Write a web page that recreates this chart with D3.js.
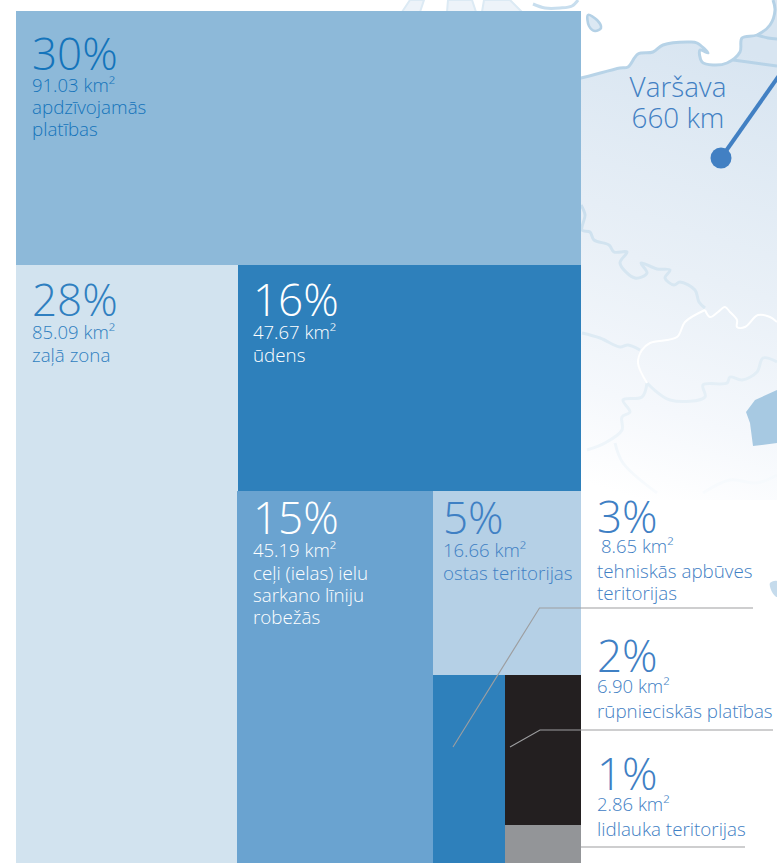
<!DOCTYPE html>
<html><head><meta charset="utf-8">
<script src="https://cdn.jsdelivr.net/npm/d3@7"></script>
<style>html,body{margin:0;padding:0;background:#fff;overflow:hidden}svg{display:block}
text{font-family:"Open Sans",sans-serif;font-weight:300}</style></head>
<body><svg id="c" width="777" height="863"></svg>
<script>
// printed labels
const categories = ["apdzīvojamās platības","zaļā zona","ūdens","ceļi (ielas) ielu sarkano līniju robežās","ostas teritorijas","tehniskās apbūves teritorijas","rūpnieciskās platības","lidlauka teritorijas"];
const percentLabels = ["30%","28%","16%","15%","5%","3%","2%","1%"];
const areaKm2 = [91.03,85.09,47.67,45.19,16.66,8.65,6.90,2.86];
const nameLines = [["apdzīvojamās","platības"],["zaļā zona"],["ūdens"],["ceļi (ielas) ielu","sarkano līniju","robežās"],["ostas teritorijas"],["tehniskās apbūves","teritorijas"],["rūpnieciskās platības"],["lidlauka teritorijas"]];
// share of the treemap's area each block occupies in the picture (%)
const drawnShare = [29.81,27.58,16.10,15.07,5.66,2.81,2.37,0.60];
const blockColors = ["#8db9d9","#d2e3ef","#2e80bb","#6aa3d0","#b5d0e6","#2e80bb","#231f20","#939598"];
const textColors = ["#1474bb","#2f7fc0","#ffffff","#ffffff","#3f80c4","#3f80c4","#3f80c4","#3f80c4"];
const cityLabel = ["Varšava","660 km"];

const svg = d3.select("#c");
const defs = svg.append("defs");
const land = defs.append("linearGradient").attr("id","land").attr("gradientUnits","userSpaceOnUse")
  .attr("x1",777).attr("y1",60).attr("x2",640).attr("y2",500);
land.append("stop").attr("offset",0).attr("stop-color","#d8e5f1");
land.append("stop").attr("offset",.5).attr("stop-color","#e9f0f7");
land.append("stop").attr("offset",.8).attr("stop-color","#f5f8fc");
land.append("stop").attr("offset",1).attr("stop-color","#ffffff");
const edge = defs.append("linearGradient").attr("id","edge").attr("gradientUnits","userSpaceOnUse")
  .attr("x1",0).attr("y1",0).attr("x2",0).attr("y2",500);
edge.append("stop").attr("offset",0).attr("stop-color","#b4d1e6");
edge.append("stop").attr("offset",.3).attr("stop-color","#bcd6e9");
edge.append("stop").attr("offset",.5).attr("stop-color","#d3e4f0");
edge.append("stop").attr("offset",.8).attr("stop-color","#e6f0f7");
edge.append("stop").attr("offset",1).attr("stop-color","#fafcfe");

// ---- decorative map ----
const smooth = d3.line().curve(d3.curveCatmullRom.alpha(.5));
const coast = [[560,82],[581,78],[620,68],[628,67],[638,54],[653,52],[663,45],[690,42],[697,43],[708,53],[700,50],[702,62],[713,65],[727,63],[740,52],[742,38],[757,35],[770,25],[775,10],[773,0]];
const map = svg.append("g");
map.append("path").attr("d",smooth(coast)+"L777,0L777,500L400,500L400,82Z").attr("fill","url(#land)");
const lines = [
  coast,
  [[757,35],[768,38],[777,39]],
  [[733,60],[755,63],[777,66]],
  [[581,205],[585,215],[582,230],[590,232],[594,240],[609,245],[614,252],[627,252],[620,263],[635,278],[647,273],[641,263],[657,269],[670,270],[665,278],[674,285],[680,282],[695,290],[699,302],[705,308]],
  [[647,383],[670,400],[705,397],[703,385],[727,383],[730,377],[742,380],[757,372],[763,358],[777,362]],
  [[582,333],[600,338],[620,347],[628,345],[640,350]],
  [[647,383],[642,397],[623,400],[630,412],[622,417],[622,430],[605,443],[587,450]],
  [[615,443],[623,463],[657,493]],
  [[703,493],[730,480],[757,483],[777,475]]
];
map.selectAll("path.edge").data(lines).join("path").attr("class","edge").attr("d",smooth)
  .attr("fill","none").attr("stroke","url(#edge)").attr("stroke-width",3).attr("stroke-linejoin","round");
map.append("path").attr("d",smooth([[705,310],[710,317],[718,312],[725,307],[730,312],[737,320],[737,327],[745,327],[758,315],[770,317],[777,322]]))
  .attr("fill","none").attr("stroke","#fff").attr("stroke-width",2);
map.append("path").attr("d",smooth([[705,310],[685,322],[677,337],[650,343],[642,350],[638,363],[647,383]]))
  .attr("fill","none").attr("stroke","#fff").attr("stroke-width",2);
map.append("path").attr("d",d3.line().curve(d3.curveCatmullRomClosed)([[588,15],[597,20],[601,28],[595,31],[589,26]]))
  .attr("fill","#dbe8f3").attr("stroke","#b4d1e6").attr("stroke-width",2.6);
map.append("path").attr("d","M746,412L755,400L777,390L777,443L753,446L750,423Z").attr("fill","#a7c9e2");
map.append("path").attr("d",smooth([[533,4],[545,8],[560,8],[572,6],[578,0]])).attr("fill","none").attr("stroke","#c8deee").attr("stroke-width",3);
[[[402,12],[410,0],[424,0],[420,12]],[[447,12],[448,0],[472,0],[476,12]],[[482,12],[484,0],[510,0],[522,12]]].forEach(p=>
  map.append("path").attr("d",d3.line()(p)+"Z").attr("fill","#edf3f9").attr("stroke","#dceaf4").attr("stroke-width",2));
map.append("path").attr("d",d3.line().curve(d3.curveCatmullRomClosed)([[770,583],[777,581],[777,597],[772,592]])).attr("fill","#c5dbec");

// ---- treemap ----
const nest = drawnShare.reduceRight((rest,v,i)=>{
  const leaf={index:i,value:v};
  return rest? {children:[leaf,rest]} : leaf;
}, null);
const root = d3.hierarchy(nest).sum(d=>d.children?0:d.value);
d3.treemap().size([565,852]).round(true)
  .tile((n,x0,y0,x1,y1)=> (n.depth&1 ? d3.treemapDice : d3.treemapSlice)(n,x0,y0,x1,y1))(root);
const leaves = root.leaves().sort((a,b)=>a.data.index-b.data.index);
const plot = svg.append("g").attr("transform","translate(16,11)");
const seam = i => i===3 ? 1 : 0; // the roads block overlaps the green block by a pixel
plot.selectAll("rect").data(leaves).join("rect")
  .attr("x",d=>d.x0-seam(d.data.index)).attr("y",d=>d.y0)
  .attr("width",d=>d.x1-d.x0+seam(d.data.index)).attr("height",d=>d.y1-d.y0)
  .attr("fill",d=>blockColors[d.data.index]);

// ---- leader lines ----
const leaders=[[[453,747],[539.5,608],[753,608]],[[510,747],[540,730],[773,730]],[[581,847],[745,847]]];
svg.selectAll("path.leader").data(leaders).join("path").attr("class","leader").attr("d",d3.line())
  .attr("fill","none").attr("stroke","#9d9ea0").attr("stroke-width",1.1);

// ---- labels ----
const anchors=[
 {x:32,y:70,a:92,n:114},{x:32,y:316,a:339,n:362},{x:253,y:316,a:339,n:362},{x:253,y:534,a:557,n:580},
 {x:443,y:534,a:557,n:580},{x:597,y:533,a:553,n:578,ax:601},{x:597,y:672,a:693,n:718},{x:597,y:790,a:811,n:836}];
const labels=svg.append("g");
anchors.forEach((p,i)=>{
  const g=labels.append("g").attr("fill",textColors[i]);
  g.append("text").attr("x",p.x).attr("y",p.y).attr("font-size",44).text(percentLabels[i]);
  g.append("text").attr("x",p.ax||p.x).attr("y",p.a).attr("font-size",18.5).text(areaKm2[i].toFixed(2)+" km²");
  nameLines[i].forEach((s,k)=>g.append("text").attr("x",p.x).attr("y",p.n+k*22).attr("font-size",18.8).text(s));
});

// ---- city marker ----
const cx=d3.scaleLinear().domain([0,1]).range([721,790]), cy=d3.scaleLinear().domain([0,1]).range([158,60]);
svg.append("line").attr("x1",cx(0)).attr("y1",cy(0)).attr("x2",cx(1)).attr("y2",cy(1)).attr("stroke","#4280c3").attr("stroke-width",4);
svg.append("circle").attr("cx",cx(0)).attr("cy",cy(0)).attr("r",10.5).attr("fill","#4280c3");
cityLabel.forEach((s,i)=>svg.append("text").attr("x",678).attr("y",97+i*31).attr("text-anchor","middle").attr("font-size",27.8).attr("fill","#4280c3").text(s));
</script></body></html>
